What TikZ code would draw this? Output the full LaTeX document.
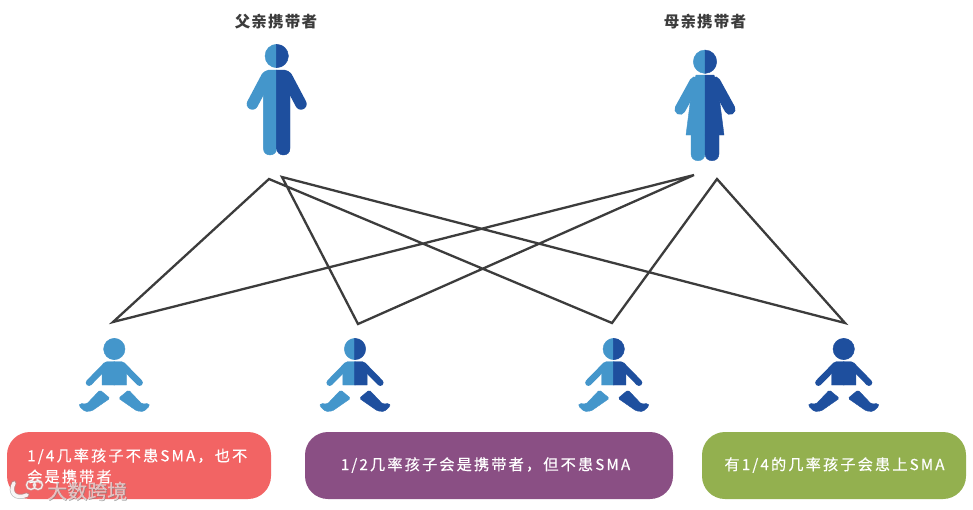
\documentclass[tikz,border=0pt]{standalone}
\usepackage{fontspec}
\setmainfont{Noto Sans CJK SC}[LetterSpace=14,FakeBold=0.3]
\newfontfamily\titlefont{Noto Sans CJK SC}[LetterSpace=8]
\newfontfamily\wmfont{Noto Sans CJK SC}[FakeBold=0.4]
\definecolor{cLight}{HTML}{4496CB}
\definecolor{cDark}{HTML}{1E4F9E}
\definecolor{cLine}{HTML}{3C3C3C}
\definecolor{cRed}{HTML}{F26464}
\definecolor{cPurple}{HTML}{8A4F84}
\definecolor{cGreen}{HTML}{93B04F}
\tikzset{
  x=1pt,y=-1pt,
  link/.style={draw=cLine,line width=2.3pt,line join=miter},
  titletext/.style={text=cLine,font=\fontsize{15.5pt}{18pt}\selectfont\titlefont\bfseries,inner sep=0pt},
  boxtext/.style={text=white,font=\fontsize{15.2pt}{21pt}\selectfont,inner sep=0pt},
  manhalf/.pic={
    \fill[pic actions] (0.3,56) -- (0.3,44.3) -- (0,44.3) arc[start angle=-90,end angle=-270,radius=11.7] -- (0.3,67.7) -- cycle;
    \fill[pic actions] (0.3,70) -- (-8,70) .. controls (-11,70) and (-13.3,72) .. (-13.3,76) -- (-13.3,148.3) .. controls (-13.3,152.5) and (-10.5,155) .. (-6.7,155) .. controls (-3,155) and (0,152.5) .. (0,148.3) -- (0.3,148.3) -- cycle;
    \draw[pic actions,line width=11.4pt,line cap=round] (-10,77) -- (-24.3,104);
  },
  womanhalf/.pic={
    \fill[pic actions] (0,61.7) -- (0,50) arc[start angle=-90,end angle=-270,radius=11.7] -- cycle;
    \fill[pic actions] (0,75) -- (-9,75) -- (-14,96) -- (-19,135) -- (0,135) -- cycle;
    \fill[pic actions] (-14,135) -- (-14,153.7) .. controls (-14,158) and (-11,160.7) .. (-7,160.7) .. controls (-3,160.7) and (0,158) .. (0,153.7) -- (0,135) -- cycle;
    \draw[pic actions,line width=11pt,line cap=round] (-10,82) -- (-25,109.3);
  },
  babyhalf/.pic={
    \fill[pic actions] (0.4,-10.7) -- (0,-10.7) arc[start angle=-90,end angle=-270,radius=10.7] -- (0.4,10.7) -- cycle;
    \fill[pic actions] (0.4,12.7) -- (-7.5,12.7) -- (-12.2,18) -- (-12.2,36) -- (0.4,36) -- cycle;
    \draw[pic actions,line width=6.5pt,line cap=round] (-8,16) -- (-25.3,33.7);
    \fill[pic actions,rounded corners=1.5pt] (-14.3,41) -- (-4.3,49.3) -- (-22.6,62) -- (-29.3,62.5) -- (-35.3,57) -- (-34.3,54.5) -- (-27.6,55) -- cycle;
  }
}
\begin{document}
\begin{tikzpicture}
\useasboundingbox (0,0) rectangle (973,509);
\fill[white] (0,0) rectangle (973,509);

\node[titletext] (father) at (276,22) {父亲携带者};
\node[titletext] (mother) at (705,22) {母亲携带者};

\pic[fill=cLight,draw=cLight] at (276.7,0) {manhalf};
\pic[fill=cDark,draw=cDark,xscale=-1] at (276.7,0) {manhalf};
\pic[fill=cLight,draw=cLight] at (705,0) {womanhalf};
\pic[fill=cDark,draw=cDark,xscale=-1] at (705,0) {womanhalf};

\pic[fill=cLight,draw=cLight] at (114.3,349) {babyhalf};
\pic[fill=cLight,draw=cLight,xscale=-1] at (114.3,349) {babyhalf};
\pic[fill=cLight,draw=cLight] at (355,349) {babyhalf};
\pic[fill=cDark,draw=cDark,xscale=-1] at (355,349) {babyhalf};
\pic[fill=cLight,draw=cLight] at (613.7,349) {babyhalf};
\pic[fill=cDark,draw=cDark,xscale=-1] at (613.7,349) {babyhalf};
\pic[fill=cDark,draw=cDark] at (843.7,349) {babyhalf};
\pic[fill=cDark,draw=cDark,xscale=-1] at (843.7,349) {babyhalf};

\coordinate (fa) at (269,179);
\coordinate (fb) at (282,177);
\coordinate (ma) at (694,175);
\coordinate (mb) at (717,179);
\coordinate (k1) at (113,322);
\coordinate (k2) at (358,324);
\coordinate (k3) at (612,323);
\coordinate (k4) at (845,323);
\draw[link] (k1) -- (fa) -- (k3) -- (mb) -- (k4) -- (fb) -- (k2) -- (ma) -- cycle;

\fill[cRed,rounded corners=23pt] (7,432) rectangle (271,499);
\fill[cPurple,rounded corners=23pt] (305,432) rectangle (673,499);
\fill[cGreen,rounded corners=23pt] (702,432) rectangle (966,499);

\node[boxtext,align=left,anchor=west] (t1) at (27,466) {1/4几率孩子不患SMA，也不\\会是携带者};
\node[boxtext] (t2) at (485.5,465) {1/2几率孩子会是携带者，但不患SMA};
\node[boxtext] (t3) at (834.5,465) {有1/4的几率孩子会患上SMA};

\draw[gray!80,opacity=.6,line width=5pt,line cap=round] (14,483) .. controls (9,492) and (15,500) .. (27,495);
\draw[white,opacity=.9,line width=3.5pt,line cap=round] (14,483) .. controls (9,492) and (15,500) .. (27,495);
\draw[gray!50,opacity=.6,line width=2.2pt] (31,485) circle[radius=4.5] (38,485) circle[radius=4.5];
\draw[white,opacity=.8,line width=1.2pt] (31,485) circle[radius=4.5] (38,485) circle[radius=4.5];
\node[text=gray,opacity=.6,font=\fontsize{20pt}{24pt}\selectfont\wmfont,inner sep=0pt,anchor=west] (wmb) at (47.7,491.7) {大数跨境};
\node[text=white,opacity=.55,font=\fontsize{20pt}{24pt}\selectfont\wmfont,inner sep=0pt,anchor=west] (wm) at (47,491) {大数跨境};
\end{tikzpicture}
\end{document}
